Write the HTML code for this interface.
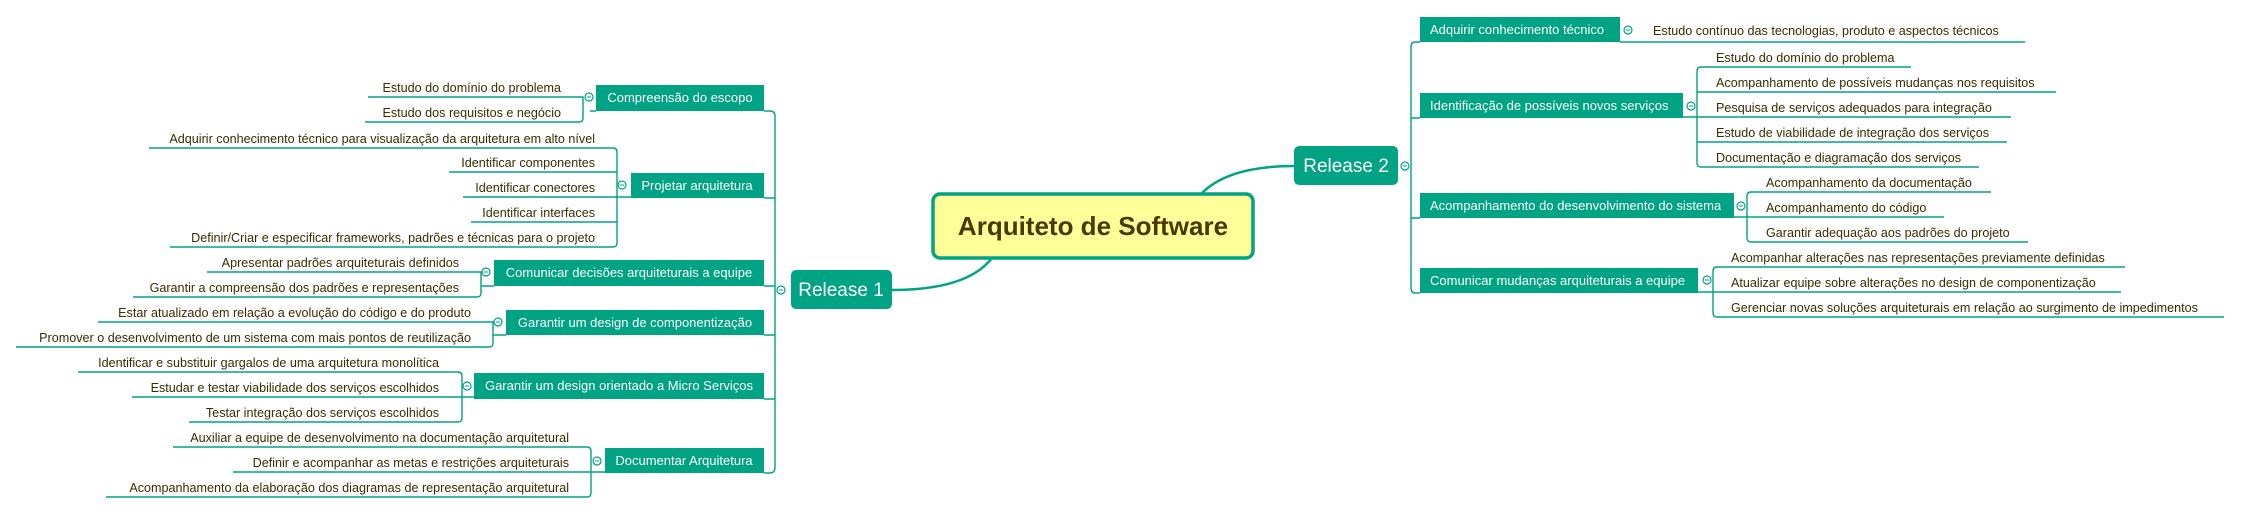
<!DOCTYPE html>
<html><head><meta charset="utf-8"><style>
html,body{margin:0;padding:0;background:#fff;}
svg{display:block;font-family:"Liberation Sans",sans-serif;}
.c{font-size:12.6px;fill:#3a2d00;}
.b{font-size:13px;fill:#fff;}
.ln{stroke:#00a383;stroke-width:1.4;fill:none;}
.bx{fill:#00a383;}
.ci{fill:#fff;stroke:#00a383;stroke-width:1.2;}
.m{stroke:#00a383;stroke-width:1;}
</style></head><body>
<svg width="2241" height="513" viewBox="0 0 2241 513" xmlns="http://www.w3.org/2000/svg">
<path class="ln" d="M992,258 C975,280 940,290 892,290" style="stroke-width:2.5"/>
<path class="ln" d="M1202,193 C1220,175 1250,166 1294,166" style="stroke-width:2.5"/>
<rect x="933" y="194" width="320" height="64" rx="7" fill="#ffff99" stroke="#00a383" stroke-width="3.5"/>
<text x="1093" y="235" text-anchor="middle" font-size="26" font-weight="bold" fill="#4a3800">Arquiteto de Software</text>

<rect class="bx" x="791" y="270" width="101" height="39" rx="5"/>
<text class="b" x="841" y="296" text-anchor="middle" style="font-size:19px">Release 1</text>
<circle class="ci" cx="781" cy="290" r="4"/><line class="m" x1="779" y1="290" x2="783" y2="290"/>
<path class="ln" d="M764,111 H770 Q775,111 775,116 V467 Q775,473 770,473 H764"/>
<path class="ln" d="M764,198 H775 M764,286 H775 M764,335 H775 M764,399 H775"/>

<rect class="bx" x="596" y="85" width="168" height="26"/>
<text class="b" x="680" y="102" text-anchor="middle">Compreensão do escopo</text>
<circle class="ci" cx="589" cy="97" r="4"/><line class="m" x1="587" y1="97" x2="591" y2="97"/>
<path class="ln" d="M368,97 H583 V118 Q583,122 579,122 H365 M596,111 H590"/>
<text class="c" x="561" y="92" text-anchor="end">Estudo do domínio do problema</text>
<text class="c" x="561" y="117" text-anchor="end">Estudo dos requisitos e negócio</text>

<rect class="bx" x="631" y="173" width="133" height="25"/>
<text class="b" x="697" y="190" text-anchor="middle">Projetar arquitetura</text>
<circle class="ci" cx="622" cy="185" r="4"/><line class="m" x1="620" y1="185" x2="624" y2="185"/>
<path class="ln" d="M149,148 H613 Q617,148 617,152 V243 Q617,247 613,247 H170 M449,172 H617 M463,197 H631 M471,222 H617"/>
<text class="c" x="595" y="143" text-anchor="end">Adquirir conhecimento técnico para visualização da arquitetura em alto nível</text>
<text class="c" x="595" y="167" text-anchor="end">Identificar componentes</text>
<text class="c" x="595" y="192" text-anchor="end">Identificar conectores</text>
<text class="c" x="595" y="217" text-anchor="end">Identificar interfaces</text>
<text class="c" x="595" y="242" text-anchor="end">Definir/Criar e especificar frameworks, padrões e técnicas para o projeto</text>

<rect class="bx" x="494" y="260" width="270" height="26"/>
<text class="b" x="629" y="277" text-anchor="middle">Comunicar decisões arquiteturais a equipe</text>
<circle class="ci" cx="486" cy="272" r="4"/><line class="m" x1="484" y1="272" x2="488" y2="272"/>
<path class="ln" d="M207,272 H481 V293 Q481,297 477,297 H133 M494,286 H481"/>
<text class="c" x="459" y="267" text-anchor="end">Apresentar padrões arquiteturais definidos</text>
<text class="c" x="459" y="292" text-anchor="end">Garantir a compreensão dos padrões e representações</text>

<rect class="bx" x="506" y="310" width="258" height="25"/>
<text class="b" x="635" y="327" text-anchor="middle">Garantir um design de componentização</text>
<circle class="ci" cx="498" cy="322" r="4"/><line class="m" x1="496" y1="322" x2="500" y2="322"/>
<path class="ln" d="M98,322 H493 V343 Q493,347 489,347 H16 M506,335 H493"/>
<text class="c" x="471" y="317" text-anchor="end">Estar atualizado em relação a evolução do código e do produto</text>
<text class="c" x="471" y="342" text-anchor="end">Promover o desenvolvimento de um sistema com mais pontos de reutilização</text>

<rect class="bx" x="474" y="373" width="290" height="26"/>
<text class="b" x="619" y="390" text-anchor="middle">Garantir um design orientado a Micro Serviços</text>
<circle class="ci" cx="467" cy="386" r="4"/><line class="m" x1="465" y1="386" x2="469" y2="386"/>
<path class="ln" d="M78,372 H458 Q462,372 462,376 V418 Q462,422 458,422 H189 M132,397 H474"/>
<text class="c" x="439" y="367" text-anchor="end">Identificar e substituir gargalos de uma arquitetura monolítica</text>
<text class="c" x="439" y="392" text-anchor="end">Estudar e testar viabilidade dos serviços escolhidos</text>
<text class="c" x="439" y="417" text-anchor="end">Testar integração dos serviços escolhidos</text>

<rect class="bx" x="605" y="448" width="159" height="25"/>
<text class="b" x="684" y="465" text-anchor="middle">Documentar Arquitetura</text>
<circle class="ci" cx="597" cy="461" r="4"/><line class="m" x1="595" y1="461" x2="599" y2="461"/>
<path class="ln" d="M173,447 H587 Q591,447 591,451 V493 Q591,497 587,497 H106 M233,472 H605"/>
<text class="c" x="569" y="442" text-anchor="end">Auxiliar a equipe de desenvolvimento na documentação arquitetural</text>
<text class="c" x="569" y="467" text-anchor="end">Definir e acompanhar as metas e restrições arquiteturais</text>
<text class="c" x="569" y="492" text-anchor="end">Acompanhamento da elaboração dos diagramas de representação arquitetural</text>

<rect class="bx" x="1294" y="146" width="104" height="39" rx="5"/>
<text class="b" x="1346" y="172" text-anchor="middle" style="font-size:19px">Release 2</text>
<circle class="ci" cx="1405" cy="166" r="4"/><line class="m" x1="1403" y1="166" x2="1407" y2="166"/>
<path class="ln" d="M1420,42 H1415 Q1411,42 1411,47 V288 Q1411,293 1415,293 H1420 M1411,118 H1420 M1411,218 H1420"/>

<rect class="bx" x="1420" y="17" width="200" height="25"/>
<text class="b" x="1430" y="34">Adquirir conhecimento técnico</text>
<circle class="ci" cx="1628" cy="30" r="4"/><line class="m" x1="1626" y1="30" x2="1630" y2="30"/>
<path class="ln" d="M1620,42 H2025"/>
<text class="c" x="1653" y="35">Estudo contínuo das tecnologias, produto e aspectos técnicos</text>

<rect class="bx" x="1420" y="93" width="263" height="25"/>
<text class="b" x="1430" y="110">Identificação de possíveis novos serviços</text>
<circle class="ci" cx="1691" cy="106" r="4"/><line class="m" x1="1689" y1="106" x2="1693" y2="106"/>
<path class="ln" d="M1911,67 H1701 Q1697,67 1697,71 V163 Q1697,167 1701,167 H1979 M1697,92 H2056 M1683,117 H2011 M1697,142 H2007"/>
<text class="c" x="1716" y="62">Estudo do domínio do problema</text>
<text class="c" x="1716" y="87">Acompanhamento de possíveis mudanças nos requisitos</text>
<text class="c" x="1716" y="112">Pesquisa de serviços adequados para integração</text>
<text class="c" x="1716" y="137">Estudo de viabilidade de integração dos serviços</text>
<text class="c" x="1716" y="162">Documentação e diagramação dos serviços</text>

<rect class="bx" x="1420" y="193" width="314" height="25"/>
<text class="b" x="1430" y="210">Acompanhamento do desenvolvimento do sistema</text>
<circle class="ci" cx="1741" cy="206" r="4"/><line class="m" x1="1739" y1="206" x2="1743" y2="206"/>
<path class="ln" d="M1991,192 H1751 Q1747,192 1747,196 V238 Q1747,242 1751,242 H2028 M1734,217 H1944"/>
<text class="c" x="1766" y="187">Acompanhamento da documentação</text>
<text class="c" x="1766" y="212">Acompanhamento do código</text>
<text class="c" x="1766" y="237">Garantir adequação aos padrões do projeto</text>

<rect class="bx" x="1420" y="268" width="278" height="25"/>
<text class="b" x="1430" y="285">Comunicar mudanças arquiteturais a equipe</text>
<circle class="ci" cx="1707" cy="280" r="4"/><line class="m" x1="1705" y1="280" x2="1709" y2="280"/>
<path class="ln" d="M2125,267 H1717 Q1713,267 1713,271 V313 Q1713,317 1717,317 H2224 M1698,292 H2121"/>
<text class="c" x="1731" y="262">Acompanhar alterações nas representações previamente definidas</text>
<text class="c" x="1731" y="287">Atualizar equipe sobre alterações no design de componentização</text>
<text class="c" x="1731" y="312">Gerenciar novas soluções arquiteturais em relação ao surgimento de impedimentos</text>
</svg>
</body></html>
